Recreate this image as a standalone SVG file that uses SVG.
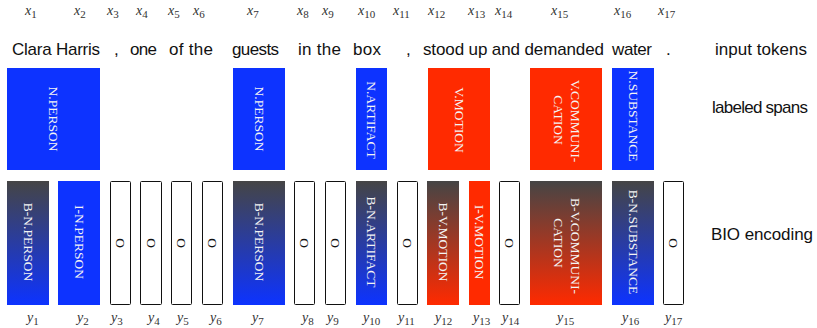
<svg xmlns="http://www.w3.org/2000/svg" width="817" height="328" viewBox="0 0 817 328">
  <style>
    .tok { font-family: "Liberation Sans", Arial, sans-serif; font-size: 17px; fill: #111; }
    .var { font-family: "Liberation Serif", "Times New Roman", serif; font-size: 14px; font-style: italic; fill: #333; }
    .sub { font-style: normal; font-size: 11px; }
    .lab { font-family: "Liberation Serif", "Times New Roman", serif; font-size: 13.5px; fill: #f4f4f4; text-anchor: middle; dominant-baseline: central; }
    .olab { font-family: "Liberation Serif", "Times New Roman", serif; font-size: 13.5px; fill: #111; text-anchor: middle; dominant-baseline: central; }
    .blue { fill: #0d33ff; }
    .red { fill: #ff2a00; }
    .gblue { fill: url(#gradBlue); }
    .gred { fill: url(#gradRed); }
    .o { fill: #fff; stroke: #111; stroke-width: 1; }
  </style>
  <defs>
    <linearGradient id="gradBlue" x1="0" y1="0" x2="0" y2="1">
      <stop offset="0" stop-color="#454545"/>
      <stop offset="1" stop-color="#0d33ff"/>
    </linearGradient>
    <linearGradient id="gradRed" x1="0" y1="0" x2="0" y2="1">
      <stop offset="0" stop-color="#454545"/>
      <stop offset="1" stop-color="#ff2a00"/>
    </linearGradient>
  </defs>

  <!-- token indices -->
  <g id="x-indices">
    <text class="var" x="25" y="15">x<tspan class="sub" dy="3">1</tspan></text>
    <text class="var" x="74" y="15">x<tspan class="sub" dy="3">2</tspan></text>
    <text class="var" x="107" y="15">x<tspan class="sub" dy="3">3</tspan></text>
    <text class="var" x="136" y="15">x<tspan class="sub" dy="3">4</tspan></text>
    <text class="var" x="168" y="15">x<tspan class="sub" dy="3">5</tspan></text>
    <text class="var" x="193" y="15">x<tspan class="sub" dy="3">6</tspan></text>
    <text class="var" x="247" y="15">x<tspan class="sub" dy="3">7</tspan></text>
    <text class="var" x="297" y="15">x<tspan class="sub" dy="3">8</tspan></text>
    <text class="var" x="322" y="15">x<tspan class="sub" dy="3">9</tspan></text>
    <text class="var" x="358" y="15">x<tspan class="sub" dy="3">10</tspan></text>
    <text class="var" x="393" y="15">x<tspan class="sub" dy="3">11</tspan></text>
    <text class="var" x="428" y="15">x<tspan class="sub" dy="3">12</tspan></text>
    <text class="var" x="468" y="15">x<tspan class="sub" dy="3">13</tspan></text>
    <text class="var" x="495" y="15">x<tspan class="sub" dy="3">14</tspan></text>
    <text class="var" x="551" y="15">x<tspan class="sub" dy="3">15</tspan></text>
    <text class="var" x="614" y="15">x<tspan class="sub" dy="3">16</tspan></text>
    <text class="var" x="658" y="15">x<tspan class="sub" dy="3">17</tspan></text>
  </g>

  <!-- input tokens -->
  <g id="tokens">
    <text class="tok" x="12" y="55" textLength="88">Clara Harris</text>
    <text class="tok" x="114" y="55">,</text>
    <text class="tok" x="130" y="55" textLength="27">one</text>
    <text class="tok" x="169" y="55" textLength="44">of the</text>
    <text class="tok" x="232" y="55" textLength="47">guests</text>
    <text class="tok" x="298" y="55" textLength="43">in the</text>
    <text class="tok" x="353" y="55" textLength="28">box</text>
    <text class="tok" x="406" y="55">,</text>
    <text class="tok" x="423" y="55" textLength="181">stood up and demanded</text>
    <text class="tok" x="612" y="55" textLength="40">water</text>
    <text class="tok" x="666" y="55">.</text>
  </g>

  <!-- row captions -->
  <g id="captions">
    <text class="tok" x="715" y="55" textLength="92">input tokens</text>
    <text class="tok" x="712" y="113" textLength="96">labeled spans</text>
    <text class="tok" x="711" y="240" textLength="102">BIO encoding</text>
  </g>

  <!-- labeled spans -->
  <g id="span-1">
    <rect class="blue" x="7" y="68" width="93" height="102"/>
    <text class="lab" transform="translate(53.5,119) rotate(90)">N.PERSON</text>
  </g>
  <g id="span-7">
    <rect class="blue" x="233" y="68" width="52" height="102"/>
    <text class="lab" transform="translate(259,119) rotate(90)">N.PERSON</text>
  </g>
  <g id="span-10">
    <rect class="blue" x="356" y="68" width="31" height="102"/>
    <text class="lab" transform="translate(371.5,120) rotate(90)">N.ARTIFACT</text>
  </g>
  <g id="span-12">
    <rect class="red" x="428" y="68" width="62" height="102"/>
    <text class="lab" transform="translate(459,120) rotate(90)">V.MOTION</text>
  </g>
  <g id="span-15">
    <rect class="red" x="530" y="68" width="72" height="102"/>
    <text class="lab" transform="translate(575,121) rotate(90)">V.COMMUNI-</text>
    <text class="lab" transform="translate(558,120) rotate(90)">CATION</text>
  </g>
  <g id="span-16">
    <rect class="blue" x="612" y="68" width="42" height="102"/>
    <text class="lab" transform="translate(633,116) rotate(90)">N.SUBSTANCE</text>
  </g>

  <!-- BIO encoding -->
  <g id="bio-1">
    <rect class="gblue" x="7" y="181" width="42" height="124"/>
    <text class="lab" transform="translate(28,242) rotate(90)">B-N.PERSON</text>
  </g>
  <g id="bio-2">
    <rect class="blue" x="58" y="181" width="42" height="124"/>
    <text class="lab" transform="translate(79,242) rotate(90)">I-N.PERSON</text>
  </g>
  <g id="bio-3">
    <rect class="o" x="110.5" y="181.5" width="20" height="123" rx="1"/>
    <text class="olab" transform="translate(120.5,243) rotate(90)">O</text>
  </g>
  <g id="bio-4">
    <rect class="o" x="140.5" y="181.5" width="21" height="123" rx="1"/>
    <text class="olab" transform="translate(151,243) rotate(90)">O</text>
  </g>
  <g id="bio-5">
    <rect class="o" x="171.5" y="181.5" width="20" height="123" rx="1"/>
    <text class="olab" transform="translate(181.5,243) rotate(90)">O</text>
  </g>
  <g id="bio-6">
    <rect class="o" x="202.5" y="181.5" width="20" height="123" rx="1"/>
    <text class="olab" transform="translate(212.5,243) rotate(90)">O</text>
  </g>
  <g id="bio-7">
    <rect class="gblue" x="233" y="181" width="52" height="124"/>
    <text class="lab" transform="translate(259,242) rotate(90)">B-N.PERSON</text>
  </g>
  <g id="bio-8">
    <rect class="o" x="294.5" y="181.5" width="20" height="123" rx="1"/>
    <text class="olab" transform="translate(304.5,243) rotate(90)">O</text>
  </g>
  <g id="bio-9">
    <rect class="o" x="325.5" y="181.5" width="20" height="123" rx="1"/>
    <text class="olab" transform="translate(335.5,243) rotate(90)">O</text>
  </g>
  <g id="bio-10">
    <rect class="gblue" x="356" y="181" width="31" height="124"/>
    <text class="lab" transform="translate(371.5,242) rotate(90)">B-N.ARTIFACT</text>
  </g>
  <g id="bio-11">
    <rect class="o" x="397.5" y="181.5" width="20" height="123" rx="1"/>
    <text class="olab" transform="translate(407.5,243) rotate(90)">O</text>
  </g>
  <g id="bio-12">
    <rect class="gred" x="427" y="181" width="32" height="124"/>
    <text class="lab" transform="translate(443,242) rotate(90)">B-V.MOTION</text>
  </g>
  <g id="bio-13">
    <rect class="red" x="469" y="181" width="21" height="124"/>
    <text class="lab" transform="translate(479.5,242) rotate(90)">I-V.MOTION</text>
  </g>
  <g id="bio-14">
    <rect class="o" x="499.5" y="181.5" width="20" height="123" rx="1"/>
    <text class="olab" transform="translate(509.5,243) rotate(90)">O</text>
  </g>
  <g id="bio-15">
    <rect class="gred" x="530" y="181" width="72" height="124"/>
    <text class="lab" transform="translate(575,246) rotate(90)">B-V.COMMUNI-</text>
    <text class="lab" transform="translate(558,243) rotate(90)">CATION</text>
  </g>
  <g id="bio-16">
    <rect class="gblue" x="612" y="181" width="42" height="124"/>
    <text class="lab" transform="translate(633,242) rotate(90)">B-N.SUBSTANCE</text>
  </g>
  <g id="bio-17">
    <rect class="o" x="663.5" y="181.5" width="20" height="123" rx="1"/>
    <text class="olab" transform="translate(673.5,243) rotate(90)">O</text>
  </g>

  <!-- output indices -->
  <g id="y-indices">
    <text class="var" x="27" y="322">y<tspan class="sub" dy="3">1</tspan></text>
    <text class="var" x="77" y="322">y<tspan class="sub" dy="3">2</tspan></text>
    <text class="var" x="111" y="322">y<tspan class="sub" dy="3">3</tspan></text>
    <text class="var" x="148" y="322">y<tspan class="sub" dy="3">4</tspan></text>
    <text class="var" x="177" y="322">y<tspan class="sub" dy="3">5</tspan></text>
    <text class="var" x="210" y="322">y<tspan class="sub" dy="3">6</tspan></text>
    <text class="var" x="252" y="322">y<tspan class="sub" dy="3">7</tspan></text>
    <text class="var" x="302" y="322">y<tspan class="sub" dy="3">8</tspan></text>
    <text class="var" x="327" y="322">y<tspan class="sub" dy="3">9</tspan></text>
    <text class="var" x="363" y="322">y<tspan class="sub" dy="3">10</tspan></text>
    <text class="var" x="398" y="322">y<tspan class="sub" dy="3">11</tspan></text>
    <text class="var" x="435" y="322">y<tspan class="sub" dy="3">12</tspan></text>
    <text class="var" x="473" y="322">y<tspan class="sub" dy="3">13</tspan></text>
    <text class="var" x="502" y="322">y<tspan class="sub" dy="3">14</tspan></text>
    <text class="var" x="557" y="322">y<tspan class="sub" dy="3">15</tspan></text>
    <text class="var" x="622" y="322">y<tspan class="sub" dy="3">16</tspan></text>
    <text class="var" x="665" y="322">y<tspan class="sub" dy="3">17</tspan></text>
  </g>
</svg>
